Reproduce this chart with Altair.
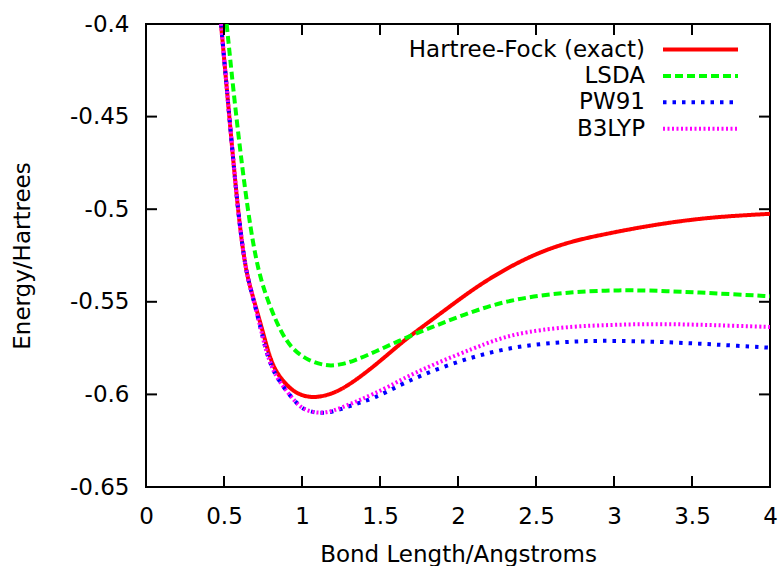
import altair as alt
import pandas as pd

# ---- data ----
series_names = ["Hartree-Fock (exact)", "LSDA", "PW91", "B3LYP"]
series_colors = ["#ff0000", "#00ff00", "#0000ff", "#ff00ff"]
series_dash = [[1, 0], [8, 4], [3.5, 6], [2, 2.5]]

hf_x = [0.481, 0.534, 0.592, 0.639, 0.673, 0.709, 0.746, 0.780, 0.816, 0.87, 0.955, 1.062, 1.158,
        1.244, 1.35, 1.457, 1.564, 1.671, 1.885, 2.098, 2.31, 2.526, 2.74, 2.953, 3.12, 3.34, 3.55,
        3.76, 4.0]
hf_y = [-0.4, -0.45, -0.504, -0.5328, -0.5436, -0.5544, -0.5652, -0.576, -0.585, -0.5922, -0.5995,
        -0.6020, -0.6006, -0.5978, -0.5920, -0.5850, -0.5775, -0.5697, -0.5565, -0.5430, -0.5319,
        -0.5230, -0.5170, -0.5133, -0.5105, -0.5074, -0.5051, -0.5036, -0.5025]

lsda_x = [0.517, 0.577, 0.656, 0.72, 0.795, 0.86, 0.934, 1.04, 1.16, 1.244, 1.33, 1.457, 1.692,
          1.885, 2.098, 2.31, 2.526, 2.74, 2.953, 3.12, 3.34, 3.55, 3.76, 4.0]
lsda_y = [-0.4, -0.45, -0.504, -0.5346, -0.5527, -0.5655, -0.5755, -0.5818, -0.5848, -0.5840,
          -0.5820, -0.5775, -0.5683, -0.5620, -0.5550, -0.5496, -0.5465, -0.5447, -0.5439, -0.5437,
          -0.5442, -0.5450, -0.5459, -0.5470]

pw91_x = [0.481, 0.534, 0.592, 0.639, 0.673, 0.705, 0.738, 0.767, 0.805, 0.848, 0.966, 1.02, 1.115,
          1.20, 1.287, 1.372, 1.457, 1.564, 1.671, 1.885, 2.098, 2.31, 2.526, 2.74, 2.91, 3.12, 3.34,
          3.55, 3.76, 4.0]
pw91_y = [-0.4, -0.45, -0.504, -0.5328, -0.5436, -0.5544, -0.5652, -0.576, -0.585, -0.5925, -0.6052,
          -0.6086, -0.6104, -0.6094, -0.6068, -0.6045, -0.6021, -0.5978, -0.5931, -0.5856, -0.5797,
          -0.5752, -0.5727, -0.5714, -0.5710, -0.5712, -0.5718, -0.5726, -0.5736, -0.5748]

b3lyp_x = [0.481, 0.534, 0.592, 0.639, 0.673, 0.705, 0.738, 0.767, 0.805, 0.848, 0.966, 1.02, 1.115,
           1.20, 1.287, 1.372, 1.457, 1.564, 1.671, 1.885, 2.098, 2.25, 2.376, 2.526, 2.74, 2.91,
           3.12, 3.34, 3.55, 3.76, 4.0]
b3lyp_y = [-0.4, -0.45, -0.504, -0.5328, -0.5436, -0.5544, -0.5652, -0.576, -0.585, -0.5925, -0.6052,
           -0.6086, -0.6104, -0.6089, -0.6060, -0.6030, -0.5998, -0.5955, -0.5904, -0.5823, -0.5752,
           -0.5703, -0.5674, -0.5652, -0.5633, -0.5627, -0.5621, -0.5620, -0.5624, -0.5629, -0.5636]

x_ticks = [0, 0.5, 1, 1.5, 2, 2.5, 3, 3.5, 4]
y_ticks = [-0.65, -0.6, -0.55, -0.5, -0.45, -0.4]

series_xy = [(hf_x, hf_y), (lsda_x, lsda_y), (pw91_x, pw91_y), (b3lyp_x, b3lyp_y)]

W, H = 624, 463
FONT = "DejaVu Sans"
FS = 23
TICK = 11

xscale = alt.Scale(domain=[0, 4], nice=False, zero=False)
yscale = alt.Scale(domain=[-0.65, -0.4], nice=False, zero=False)

xaxis = alt.Axis(values=x_ticks, labelExpr="'' + datum.value", domain=False, ticks=False, grid=False,
                 tickSize=0, labelPadding=18, labelFont=FONT, labelFontSize=FS, labelColor="black",
                 title="Bond Length/Angstroms", titleFont=FONT, titleFontSize=FS, titleFontWeight="normal",
                 titleColor="black", titleX=W / 2, titleY=74, titleAlign="center", titleBaseline="alphabetic",
                 labelFlush=False, labelOverlap=False)
yaxis = alt.Axis(values=y_ticks, labelExpr="'' + datum.value", domain=False, ticks=False, grid=False,
                 tickSize=0, labelPadding=17, labelFont=FONT, labelFontSize=FS, labelColor="black",
                 title="Energy/Hartrees", titleFont=FONT, titleFontSize=FS, titleFontWeight="normal",
                 titleColor="black", titleX=-117, titleY=H / 2, titleAngle=270, titleAlign="center",
                 titleBaseline="alphabetic", labelFlush=False, labelOverlap=False)

layers = []
for name, color, dash, (xs, ys) in zip(series_names, series_colors, series_dash, series_xy):
    df = pd.DataFrame({"x": xs, "y": ys})
    layers.append(
        alt.Chart(df).mark_line(color=color, strokeWidth=4, strokeDash=dash, clip=True,
                                interpolate="basis", strokeCap="butt")
        .encode(x=alt.X("x:Q", scale=xscale, axis=xaxis), y=alt.Y("y:Q", scale=yscale, axis=yaxis))
    )

xt = pd.DataFrame({"v": x_ticks})
yt = pd.DataFrame({"v": y_ticks})
tick_style = dict(color="black", strokeWidth=2)
layers.append(alt.Chart(xt).mark_rule(**tick_style).encode(
    x=alt.X("v:Q", scale=xscale, axis=xaxis), y=alt.value(H), y2=alt.value(H - TICK)))
layers.append(alt.Chart(xt).mark_rule(**tick_style).encode(
    x=alt.X("v:Q", scale=xscale, axis=xaxis), y=alt.value(0), y2=alt.value(TICK)))
layers.append(alt.Chart(yt).mark_rule(**tick_style).encode(
    y=alt.Y("v:Q", scale=yscale, axis=yaxis), x=alt.value(0), x2=alt.value(TICK)))
layers.append(alt.Chart(yt).mark_rule(**tick_style).encode(
    y=alt.Y("v:Q", scale=yscale, axis=yaxis), x=alt.value(W), x2=alt.value(W - TICK)))

# legend (labels to the left of the line samples, as in the reference)
for i, (name, color, dash) in enumerate(zip(series_names, series_colors, series_dash)):
    row_y = 25.5 + i * 26.4
    ldf = pd.DataFrame({"label": [name]})
    layers.append(alt.Chart(ldf).mark_text(align="right", baseline="middle", font=FONT, fontSize=FS,
                                           color="black").encode(
        text="label:N", x=alt.value(499), y=alt.value(row_y)))
    layers.append(alt.Chart(ldf).mark_rule(color=color, strokeWidth=4, strokeDash=dash, strokeCap="butt").encode(
        x=alt.value(517), x2=alt.value(592), y=alt.value(row_y)))

chart = alt.layer(*layers).properties(
    width=W, height=H,
    autosize=alt.AutoSizeParams(type="none"),
    padding={"left": 146, "top": 24, "right": 12, "bottom": 79},
    background="white",
).configure_view(stroke="black", strokeWidth=2)

chart.save("out.html", embed_options={"renderer": "svg", "actions": False})
